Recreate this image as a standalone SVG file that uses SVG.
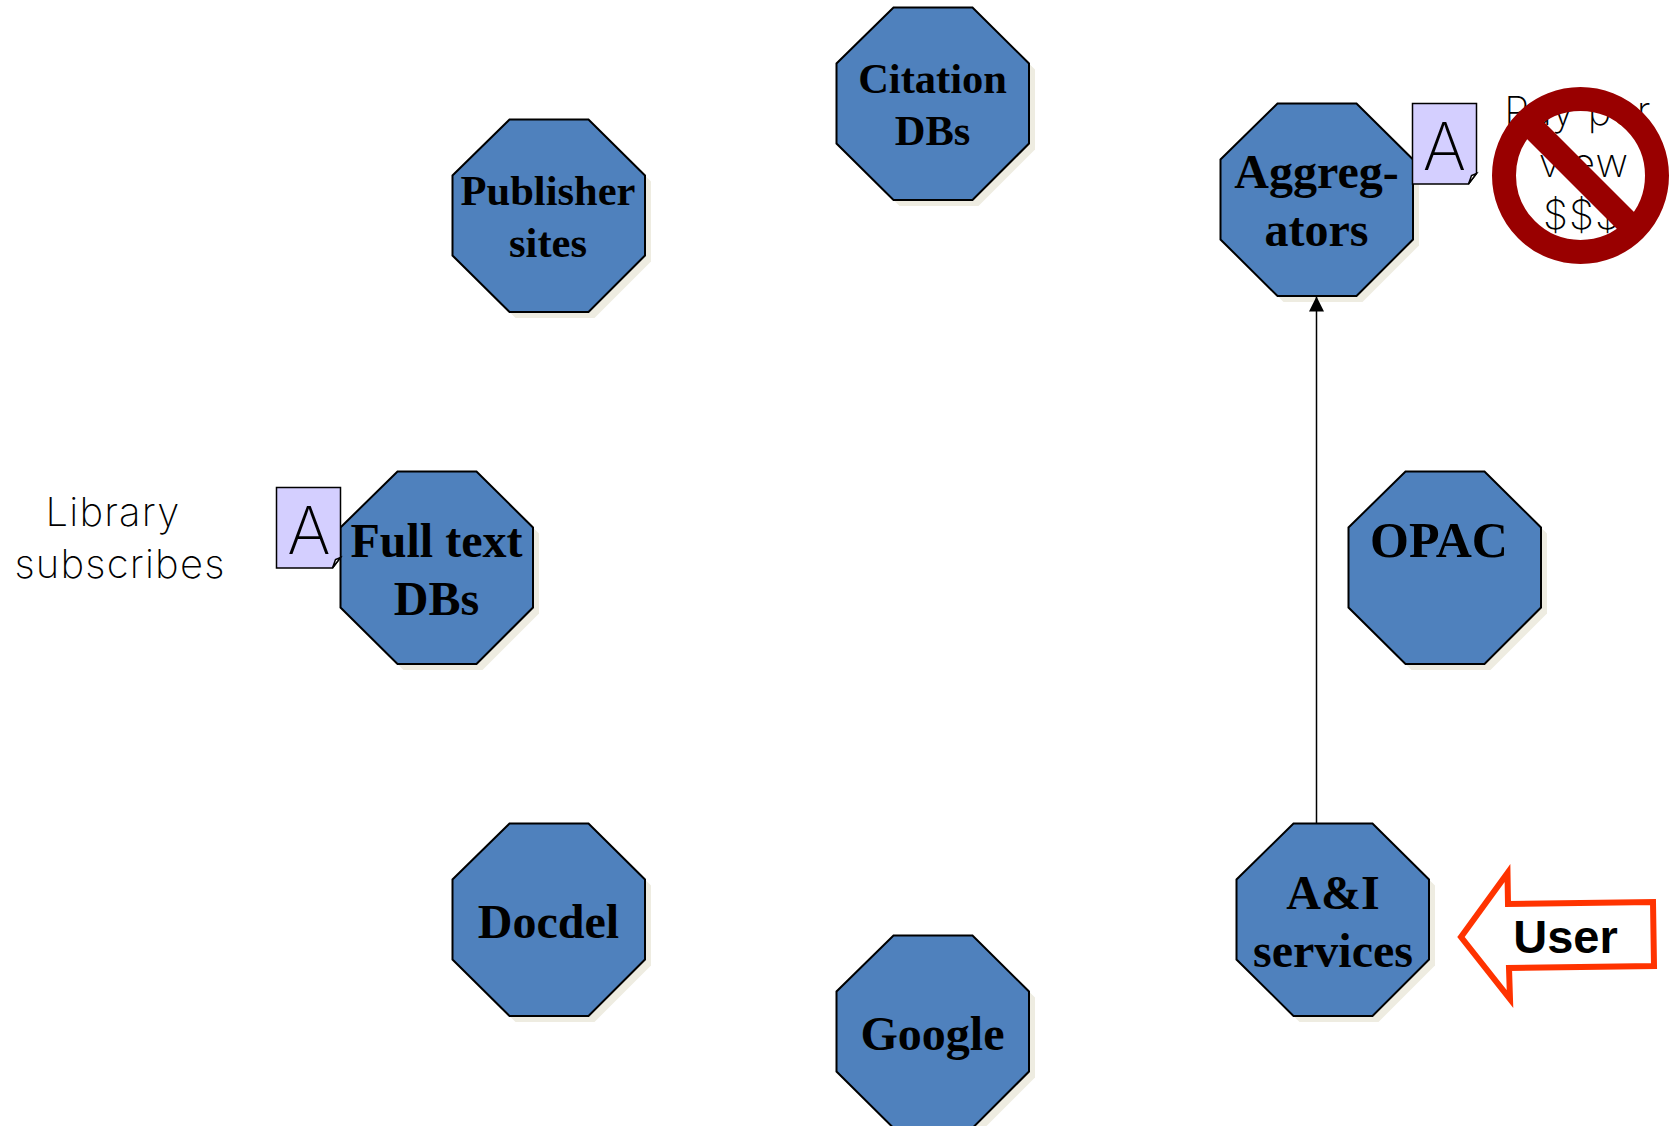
<svg xmlns="http://www.w3.org/2000/svg" width="1669" height="1126" viewBox="0 0 1669 1126">
<style>
.oct{fill:#4F81BD;stroke:#000;stroke-width:2;stroke-linejoin:miter}
.sh{fill:#EEECE1}
.t{font-family:"Liberation Serif","Times New Roman",serif;font-weight:700;fill:#000;text-anchor:middle}
.f48{font-size:48px}.f42{font-size:42.5px}
.thin{font-family:Inter,"Noto Sans",sans-serif;font-weight:200;fill:#000;text-anchor:middle;font-size:40px;letter-spacing:1.2px}
.a{font-family:Inter,"Noto Sans",sans-serif;font-weight:200;fill:#000;text-anchor:middle;font-size:66px}
.note{fill:#D4CFFF;stroke:#000;stroke-width:1.5}
.fold{fill:#fff;stroke:#000;stroke-width:1.5}
</style>
<defs>
<polygon id="o" points="57,0 136,0 192.500,56 192.500,136 136,192.500 57,192.500 0,136 0,56"/>
<marker id="ah" markerUnits="userSpaceOnUse" markerWidth="16" markerHeight="16" refX="15" refY="8" orient="auto"><path d="M0,0.500L15,8L0,15.500Z" fill="#000"/></marker>
<g id="n"><path d="M0,0H64V70L56,80.500H0Z"/><path class="fold" d="M56,80.500L59,72L64,70Z"/></g>
</defs>
<rect width="1669" height="1126" fill="#fff"/>
<g id="citation"><use href="#o" class="sh" x="842.500" y="13.500"/><use href="#o" class="oct" x="836.500" y="7.500"/><text class="t f42" x="932.500" y="93">Citation</text><text class="t f42" x="932.500" y="145">DBs</text></g>
<g id="publisher"><use href="#o" class="sh" x="458.500" y="125.500"/><use href="#o" class="oct" x="452.500" y="119.500"/><text class="t f42" x="548" y="205">Publisher</text><text class="t f42" x="548" y="257">sites</text></g>
<g id="aggregators"><use href="#o" class="sh" x="1226.500" y="109.500"/><use href="#o" class="oct" x="1220.500" y="103.500"/><text class="t f48" x="1316.500" y="188">Aggreg-</text><text class="t f48" x="1316.500" y="246">ators</text></g>
<g id="fulltext"><use href="#o" class="sh" x="346.500" y="477.500"/><use href="#o" class="oct" x="340.500" y="471.500"/><text class="t f48" x="436.500" y="557">Full text</text><text class="t f48" x="436.500" y="615">DBs</text></g>
<g id="opac"><use href="#o" class="sh" x="1354.500" y="477.500"/><use href="#o" class="oct" x="1348.500" y="471.500"/><text class="t f48" x="1439" y="557" style="font-size:50px">OPAC</text></g>
<g id="docdel"><use href="#o" class="sh" x="458.500" y="829.500"/><use href="#o" class="oct" x="452.500" y="823.500"/><text class="t f48" x="548.500" y="938">Docdel</text></g>
<g id="google"><use href="#o" class="sh" x="842.500" y="941.500"/><use href="#o" class="oct" x="836.500" y="935.500"/><text class="t f48" x="932.500" y="1050">Google</text></g>
<g id="ai"><use href="#o" class="sh" x="1242.500" y="829.500"/><use href="#o" class="oct" x="1236.500" y="823.500"/><text class="t f48" x="1333" y="909">A&amp;I</text><text class="t f48" x="1333" y="967">services</text></g>
<g id="connectors"><line x1="1316.500" y1="823" x2="1316.500" y2="296.500" stroke="#000" stroke-width="1.500" marker-end="url(#ah)"/></g>
<g id="note-left"><use href="#n" class="note" x="276.500" y="487.500"/><text class="a" x="309" y="553.500">A</text></g>
<g id="note-right"><use href="#n" class="note" x="1412.500" y="103.500"/><text class="a" x="1444.500" y="169.500">A</text></g>
<g id="library"><text class="thin" x="113" y="526">Library</text><text class="thin" x="120" y="578">subscribes</text></g>
<g id="payperview"><text class="thin" x="1578" y="125">Pay per</text><text class="thin" x="1584" y="177">view</text><text class="thin" x="1582" y="229">$$$</text></g>
<g id="no-sign"><circle cx="1580.500" cy="175.500" r="76.500" fill="none" stroke="#990000" stroke-width="24"/><line x1="1526" y1="121" x2="1634" y2="229" stroke="#990000" stroke-width="24"/></g>
<g id="user"><polygon points="1461,937 1507.500,873 1508,904 1653,902 1654,966 1509,968 1510,999" fill="#fff" stroke="#FF3300" stroke-width="6"/><text x="1565.500" y="953" font-family="'Liberation Sans',Arial,sans-serif" font-weight="700" font-size="47" text-anchor="middle" fill="#000">User</text></g>
</svg>
